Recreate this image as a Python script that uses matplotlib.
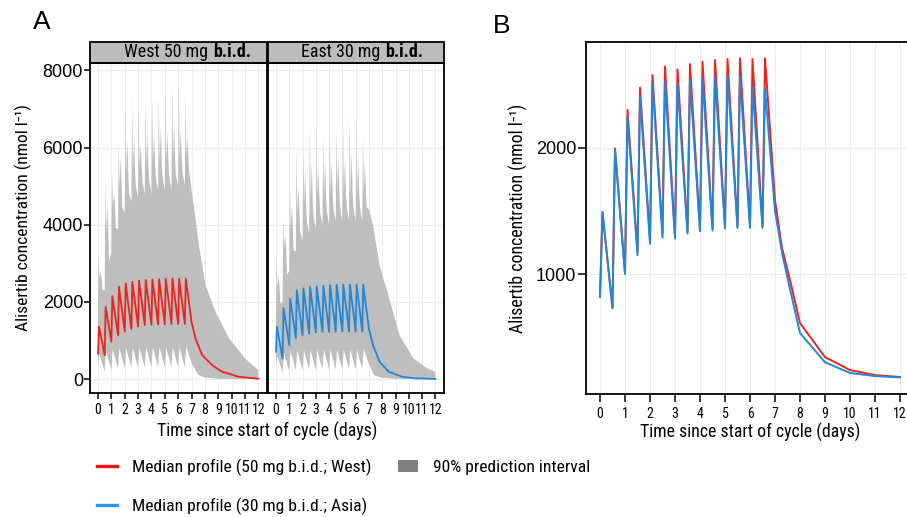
import matplotlib
matplotlib.use('Agg')
import matplotlib.pyplot as plt
from matplotlib.patches import Rectangle, Patch
from matplotlib.lines import Line2D

NARROW = ['Roboto Condensed', 'Noto Sans Condensed', 'Liberation Sans Narrow', 'Liberation Sans']
REG = ['Liberation Sans', 'DejaVu Sans']

RED = '#EC2420'
BLUE = '#2187D6'
BAND = '#BEBEBE'

# dose times (b.i.d. for 7 days)
dose_t = [0.0, 0.5, 1.0, 1.5, 2.0, 2.5, 3.0, 3.5, 4.0, 4.5, 5.0, 5.5, 6.0, 6.5]
days = [0, 1, 2, 3, 4, 5, 6, 7, 8, 9, 10, 11, 12]

# ---- panel A, West 50 mg b.i.d.
west_med_trough = [660, 620, 970, 1140, 1230, 1300, 1360, 1400, 1410, 1420, 1420, 1430, 1430, 1430]
west_med_peak = [1360, 1870, 2150, 2390, 2480, 2520, 2550, 2570, 2580, 2590, 2600, 2600, 2600, 2600]
west_med_tail_t = [7.0, 7.3, 7.8, 8.55, 9.3, 10.55, 12.0]
west_med_tail = [1480, 1050, 620, 360, 190, 60, 10]

west_hi_trough = [2000, 2300, 3300, 3900, 4300, 4600, 4700, 4800, 4800, 4900, 4900, 4900, 5000, 5000]
west_hi_spike = [3210, 5200, 5370, 6170, 6990, 7310, 7100, 7230, 7360, 7360, 7400, 7700, 7620, 7400]
west_hi_after = [2600, 3800, 4500, 5000, 5300, 5400, 5500, 5500, 5600, 5600, 5600, 5700, 5700, 5700]
west_hi_second = [2800, 4500, 4800, 5760, 6200, 6300, 6100, 6400, 6300, 6500, 6400, 6600, 6500, 6300]
west_hi_tail_t = [7.0, 7.25, 7.55, 8.05, 8.8, 9.8, 11.0, 12.0]
west_hi_tail = [4900, 4300, 3470, 2430, 1740, 1060, 540, 230]

west_lo_trough = [400, 190, 240, 270, 280, 290, 290, 300, 300, 300, 300, 300, 300, 300]
west_lo_peak = [650, 720, 780, 800, 810, 820, 820, 830, 830, 830, 830, 830, 830, 850]
west_lo_tail_t = [7.0, 7.5, 8.0, 9.0, 12.0]
west_lo_tail = [420, 110, 40, 5, 0]

# ---- panel A, East 30 mg b.i.d.
east_med_trough = [710, 535, 880, 1050, 1140, 1180, 1210, 1220, 1225, 1230, 1230, 1230, 1230, 1230]
east_med_peak = [1355, 1840, 2080, 2300, 2350, 2390, 2400, 2420, 2430, 2440, 2450, 2450, 2450, 2450]
east_med_tail_t = [7.0, 7.3, 7.8, 8.5, 9.5, 10.5, 12.0]
east_med_tail = [1300, 880, 450, 190, 60, 20, 5]

east_hi_trough = [1500, 2000, 2800, 3300, 3600, 3800, 3900, 4000, 4000, 4100, 4100, 4100, 4100, 4100]
east_hi_spike = [3080, 4200, 5110, 6040, 6020, 6580, 6520, 6340, 6750, 6540, 6640, 6860, 6620, 6370]
east_hi_after = [2400, 3400, 3900, 4300, 4500, 4600, 4700, 4700, 4800, 4800, 4800, 4800, 4800, 4800]
east_hi_second = [2700, 3700, 4500, 5000, 5400, 5600, 5500, 5700, 5600, 5800, 5700, 5900, 5700, 5600]
east_hi_tail_t = [7.0, 7.3, 7.8, 8.6, 9.3, 10.35, 11.4, 12.0]
east_hi_tail = [4400, 3990, 2950, 2000, 1140, 535, 280, 190]

east_lo_trough = [350, 170, 200, 220, 230, 240, 240, 250, 250, 250, 250, 250, 250, 250]
east_lo_peak = [600, 680, 720, 740, 750, 750, 760, 760, 760, 760, 760, 760, 760, 780]
east_lo_tail_t = [7.0, 7.4, 8.0, 9.0, 12.0]
east_lo_tail = [380, 100, 30, 5, 0]

# ---- panel B, medians overlaid
b_red_trough = [820, 730, 1008, 1177, 1275, 1323, 1296, 1336, 1362, 1362, 1376, 1381, 1381, 1381]
b_red_peak = [1490, 1997, 2302, 2479, 2579, 2646, 2624, 2667, 2685, 2698, 2706, 2712, 2706, 2712]
b_red_tail_t = [7.0, 7.27, 7.6, 8.0, 9.0, 10.0, 11.0, 12.0]
b_red_tail = [1587, 1217, 952, 611, 341, 238, 198, 183]

b_blue_trough = [820, 730, 1000, 1150, 1240, 1290, 1280, 1320, 1340, 1345, 1360, 1365, 1365, 1365]
b_blue_peak = [1494, 1990, 2249, 2407, 2513, 2526, 2513, 2540, 2553, 2566, 2579, 2566, 2487, 2474]
b_blue_tail_t = [7.0, 7.3, 7.6, 8.0, 9.0, 10.0, 11.0, 12.0]
b_blue_tail = [1500, 1150, 880, 532, 300, 215, 190, 180]


def sawtooth(trough, peak, tail_t, tail_v, rise):
    t, v = [], []
    for d, a, b in zip(dose_t, trough, peak):
        t += [d, d + rise]
        v += [a, b]
    return t + tail_t, v + tail_v


def spiky(trough, spike, after, second, tail_t, tail_v):
    t, v = [], []
    for d, a, b, c, e in zip(dose_t, trough, spike, after, second):
        t += [d, d + 0.05, d + 0.11, d + 0.2, d + 0.27, d + 0.33]
        v += [a, b, c, e, c, (c + a) / 2]
    return t + tail_t, v + tail_v


def style(ax, ylim, xlim, ticklen):
    ax.set_xlim(*xlim)
    ax.set_ylim(*ylim)
    ax.set_xticks(days)
    ax.grid(True, color='#ECECEC', lw=0.7)
    ax.set_axisbelow(True)
    for s in ax.spines.values():
        s.set_linewidth(1.3)
        s.set_color('black')
    ax.tick_params(axis='x', length=ticklen, width=1.1, pad=3)
    ax.tick_params(axis='y', length=ticklen, width=1.1, pad=1, labelsize=13)
    for lab in ax.get_xticklabels():
        lab.set_family(NARROW)
        lab.set_fontsize(10)
    for lab in ax.get_yticklabels():
        lab.set_family(REG)


fig = plt.figure(figsize=(9.07, 5.17), dpi=100)
W, H = 907.0, 517.0

axL = fig.add_axes([90 / W, 1 - 393 / H, 177 / W, 330 / H])
axR = fig.add_axes([268 / W, 1 - 393 / H, 176 / W, 330 / H])
axB = fig.add_axes([586 / W, 1 - 394 / H, 340 / W, 352 / H])

panels = [
    (axL, 'West 50 mg', 0.667,
     spiky(west_hi_trough, west_hi_spike, west_hi_after, west_hi_second, west_hi_tail_t, west_hi_tail),
     sawtooth(west_lo_trough, west_lo_peak, west_lo_tail_t, west_lo_tail, 0.1),
     sawtooth(west_med_trough, west_med_peak, west_med_tail_t, west_med_tail, 0.07), RED),
    (axR, 'East 30 mg', 0.636,
     spiky(east_hi_trough, east_hi_spike, east_hi_after, east_hi_second, east_hi_tail_t, east_hi_tail),
     sawtooth(east_lo_trough, east_lo_peak, east_lo_tail_t, east_lo_tail, 0.1),
     sawtooth(east_med_trough, east_med_peak, east_med_tail_t, east_med_tail, 0.07), BLUE),
]

for ax, strip, split, hi, lo, med, col in panels:
    ax.fill(hi[0] + lo[0][::-1], hi[1] + lo[1][::-1], color=BAND, lw=0)
    ax.plot(med[0], med[1], color=col, lw=1.3)
    ax.set_yticks([0, 2000, 4000, 6000, 8000])
    style(ax, (-360, 8190), (-0.6, 12.65), 4)
    ax.add_patch(Rectangle((0, 1), 1, 21 / 330, transform=ax.transAxes, clip_on=False,
                           facecolor='#BCBCBC', edgecolor='black', lw=1.3))
    t1 = ax.text(split, 1 + 10.5 / 330, strip, transform=ax.transAxes, ha='right', va='center',
                 family=NARROW, fontsize=13)
    ax.annotate('b.i.d.', xy=(1, 0), xycoords=t1, xytext=(3.5, 0), textcoords='offset points',
                ha='left', va='bottom', family=NARROW, fontsize=13, fontweight='bold')

axR.tick_params(axis='y', left=False, labelleft=False)
axL.set_ylabel('Alisertib concentration (nmol l\u207b\u00b9)', family=NARROW, fontsize=12.6)
axL.yaxis.set_label_coords(-0.33, 0.532)
fig.text(267 / W, 1 - 431 / H, 'Time since start of cycle (days)', ha='center', va='center',
         family=NARROW, fontsize=12.8)

# panel B
rt, rv = sawtooth(b_red_trough, b_red_peak, b_red_tail_t, b_red_tail, 0.1)
bt, bv = sawtooth(b_blue_trough, b_blue_peak, b_blue_tail_t, b_blue_tail, 0.1)
axB.plot(rt, rv, color=RED, lw=1.4)
axB.plot(bt, bv, color=BLUE, lw=1.4)
axB.set_yticks([1000, 2000])
style(axB, (48, 2841), (-0.56, 13.04), 6)
axB.set_ylabel('Alisertib concentration (nmol l\u207b\u00b9)', family=NARROW, fontsize=12.8, labelpad=6)
axB.set_xlabel('Time since start of cycle (days)', family=NARROW, fontsize=12.8)
axB.xaxis.set_label_coords(0.482, -0.082)

fig.text(42 / W, 1 - 22 / H, 'A', ha='center', va='center', family=REG, fontsize=19)
fig.text(502 / W, 1 - 26 / H, 'B', ha='center', va='center', family=REG, fontsize=19)

handles = [Line2D([], [], color='#F01010', lw=2.4), Line2D([], [], color='#2A97EE', lw=2.4),
           Patch(facecolor='#808080', edgecolor='none')]
labels = ['Median profile (50 mg b.i.d.; West)', 'Median profile (30 mg b.i.d.; Asia)',
          '90% prediction interval']
fig.legend(handles, labels, ncol=2, loc='upper left', bbox_to_anchor=(97 / W, 1 - 459 / H),
           frameon=False, prop={'family': NARROW, 'size': 12.6}, handlelength=1.15,
           handletextpad=0.85, columnspacing=1.5, labelspacing=1.2, borderpad=0, borderaxespad=0)

fig.savefig('out.png', dpi=100)
